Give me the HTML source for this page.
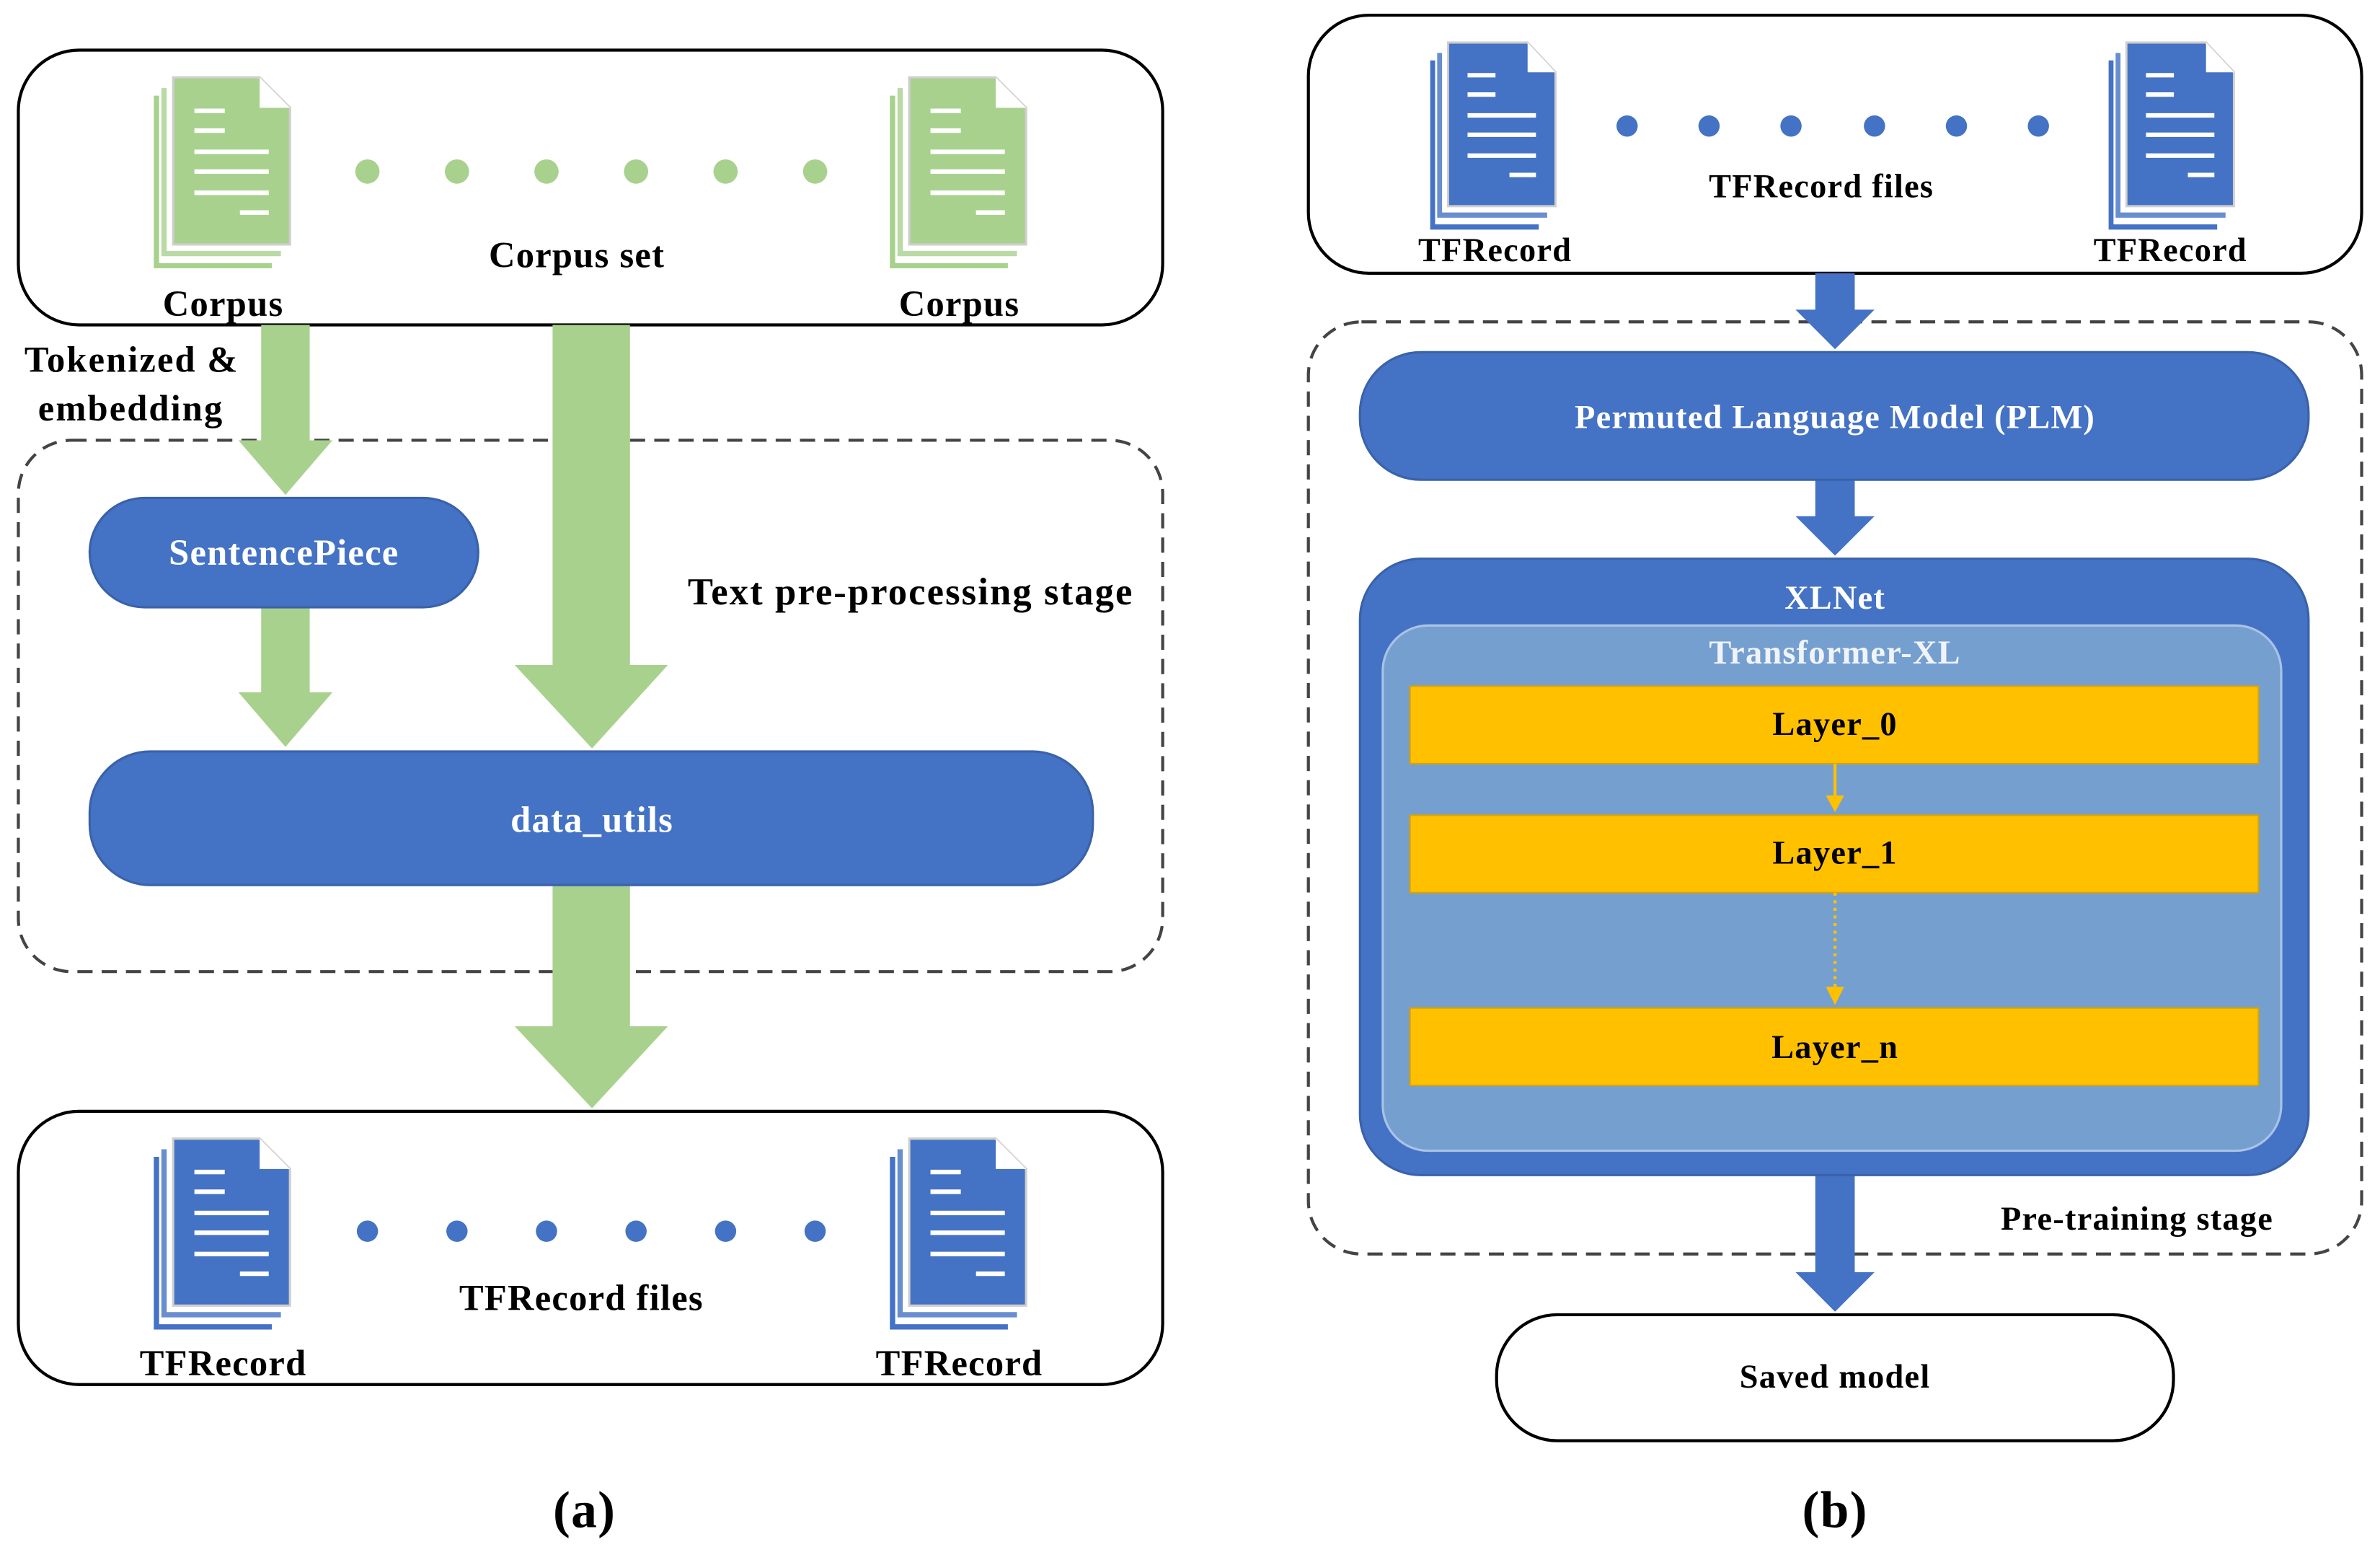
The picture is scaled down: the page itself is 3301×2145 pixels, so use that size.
<!DOCTYPE html>
<html><head><meta charset="utf-8"><style>
html,body{margin:0;padding:0;background:#fff;}
svg{display:block;}
text{font-family:"Liberation Serif",serif;font-weight:bold;letter-spacing:0.6px;}
</style></head><body>
<svg width="3301" height="2145" viewBox="0 0 1568 1019" xmlns="http://www.w3.org/2000/svg">
<defs>
<g id="doc">
  <path d="M-11 12 V124 H65 V124" fill="none" stroke="currentColor" stroke-width="3.5"/>
  <path d="M-6 7 V116 H71" fill="none" stroke="currentColor" stroke-width="3.5" opacity="0.8"/>
  <path d="M0 0 H57 L77 20 V110 H0 Z" fill="currentColor" stroke="#cfcfcf" stroke-width="1.5"/>
  <path d="M57 0 L77 20 H57 Z" fill="#fff"/>
  <g stroke="#fff" stroke-width="3">
    <line x1="14" y1="22" x2="34" y2="22"/>
    <line x1="14" y1="35" x2="34" y2="35"/>
    <line x1="14" y1="49" x2="63" y2="49"/>
    <line x1="14" y1="62" x2="63" y2="62"/>
    <line x1="14" y1="76" x2="63" y2="76"/>
    <line x1="44" y1="89" x2="63" y2="89"/>
  </g>
</g>
</defs>

<!-- Panel (a) -->
<rect x="12" y="33" width="754" height="181" rx="40" fill="#fff" stroke="#000" stroke-width="2"/>
<use href="#doc" x="114" y="51" style="color:#a9d18e"/>
<use href="#doc" x="599" y="51" style="color:#a9d18e"/>
<g fill="#a9d18e"><circle cx="242" cy="113" r="8"/><circle cx="301" cy="113" r="8"/><circle cx="360" cy="113" r="8"/><circle cx="419" cy="113" r="8"/><circle cx="478" cy="113" r="8"/><circle cx="537" cy="113" r="8"/></g>
<g font-size="24" text-anchor="middle" fill="#000">
<text x="147" y="208">Corpus</text>
<text x="632" y="208">Corpus</text>
<text x="380" y="176">Corpus set</text>
</g>

<rect x="12" y="290" width="754" height="350" rx="35" fill="none" stroke="#444" stroke-width="2" stroke-dasharray="10,6"/>

<g fill="#a9d18e">
<polygon points="172,214 204,214 204,290 219,290 188,326 157,290 172,290"/>
<polygon points="364,214 415,214 415,438 440,438 390,493 339,438 364,438"/>
<polygon points="172,400 204,400 204,456 219,456 188,492 157,456 172,456"/>
<polygon points="364,583 415,583 415,676 440,676 390,730 339,676 364,676"/>
</g>

<rect x="59" y="328" width="256" height="72" rx="36" fill="#4472c4" stroke="#3a62aa" stroke-width="1.5"/>
<text x="187" y="372" font-size="24" fill="#fff" text-anchor="middle">SentencePiece</text>
<rect x="59" y="495" width="661" height="88" rx="40" fill="#4472c4" stroke="#3a62aa" stroke-width="1.5"/>
<text x="390" y="548" font-size="24" fill="#fff" text-anchor="middle">data_utils</text>
<text x="600" y="398" font-size="25" text-anchor="middle" style="letter-spacing:1px">Text pre-processing stage</text>
<text x="16" y="245" font-size="24" style="letter-spacing:1px">Tokenized &amp;</text>
<text x="25" y="277" font-size="24" style="letter-spacing:1px">embedding</text>

<rect x="12" y="732" width="754" height="180" rx="40" fill="#fff" stroke="#000" stroke-width="2"/>
<use href="#doc" x="114" y="750" style="color:#4472c4"/>
<use href="#doc" x="599" y="750" style="color:#4472c4"/>
<g fill="#4472c4"><circle cx="242" cy="811" r="7"/><circle cx="301" cy="811" r="7"/><circle cx="360" cy="811" r="7"/><circle cx="419" cy="811" r="7"/><circle cx="478" cy="811" r="7"/><circle cx="537" cy="811" r="7"/></g>
<g font-size="24" text-anchor="middle">
<text x="383" y="863">TFRecord files</text>
<text x="147" y="906">TFRecord</text>
<text x="632" y="906">TFRecord</text>
<text x="385" y="1006" font-size="34" font-weight="normal">(a)</text>
</g>

<!-- Panel (b) -->
<rect x="862" y="10" width="694" height="170" rx="40" fill="#fff" stroke="#000" stroke-width="2"/>
<g transform="translate(954,28) scale(0.92,0.98)"><use href="#doc" style="color:#4472c4"/></g>
<g transform="translate(1401,28) scale(0.92,0.98)"><use href="#doc" style="color:#4472c4"/></g>
<g fill="#4472c4"><circle cx="1072" cy="83" r="7"/><circle cx="1126" cy="83" r="7"/><circle cx="1180" cy="83" r="7"/><circle cx="1235" cy="83" r="7"/><circle cx="1289" cy="83" r="7"/><circle cx="1343" cy="83" r="7"/></g>
<g font-size="22" text-anchor="middle">
<text x="1200" y="130">TFRecord files</text>
<text x="985" y="172">TFRecord</text>
<text x="1430" y="172">TFRecord</text>
</g>

<rect x="862" y="212" width="694" height="614" rx="35" fill="none" stroke="#444" stroke-width="2" stroke-dasharray="10,6"/>

<g fill="#4472c4">
<polygon points="1196,180 1222,180 1222,204 1235,204 1209,230 1183,204 1196,204"/>
<polygon points="1196,316 1222,316 1222,340 1235,340 1209,366 1183,340 1196,340"/>
<polygon points="1196,774 1222,774 1222,838 1235,838 1209,864 1183,838 1196,838"/>
</g>

<rect x="896" y="232" width="625" height="84" rx="40" fill="#4472c4" stroke="#3a62aa" stroke-width="1.5"/>
<text x="1209" y="282" font-size="22" fill="#fff" text-anchor="middle">Permuted Language Model (PLM)</text>

<rect x="896" y="368" width="625" height="406" rx="40" fill="#4472c4" stroke="#3a62aa" stroke-width="1.5"/>
<text x="1209" y="401" font-size="22" fill="#fff" text-anchor="middle">XLNet</text>
<rect x="911" y="412" width="592" height="346" rx="30" fill="#759fcf" stroke="#a9c3e6" stroke-width="1.5"/>
<text x="1209" y="437" font-size="22" fill="#f0f4fa" text-anchor="middle">Transformer-XL</text>

<g fill="#ffc000" stroke="#d9a300" stroke-width="1">
<rect x="929" y="452" width="559" height="51"/>
<rect x="929" y="537" width="559" height="51"/>
<rect x="929" y="664" width="559" height="51"/>
</g>
<g font-size="22" text-anchor="middle">
<text x="1209" y="484">Layer_0</text>
<text x="1209" y="569">Layer_1</text>
<text x="1209" y="697">Layer_n</text>
</g>
<g stroke="#ffc000" stroke-width="2" fill="#ffc000">
<line x1="1209" y1="503" x2="1209" y2="527"/>
<polygon points="1203,524 1215,524 1209,535" stroke="none"/>
<line x1="1209" y1="588" x2="1209" y2="652" stroke-dasharray="2,3"/>
<polygon points="1203,650 1215,650 1209,662" stroke="none"/>
</g>

<text x="1408" y="810" font-size="22" text-anchor="middle">Pre-training stage</text>

<rect x="986" y="866" width="446" height="83" rx="40" fill="#fff" stroke="#000" stroke-width="2"/>
<text x="1209" y="914" font-size="22" text-anchor="middle">Saved model</text>
<text x="1209" y="1006" font-size="34" font-weight="normal" text-anchor="middle">(b)</text>
</svg>
</body></html>
